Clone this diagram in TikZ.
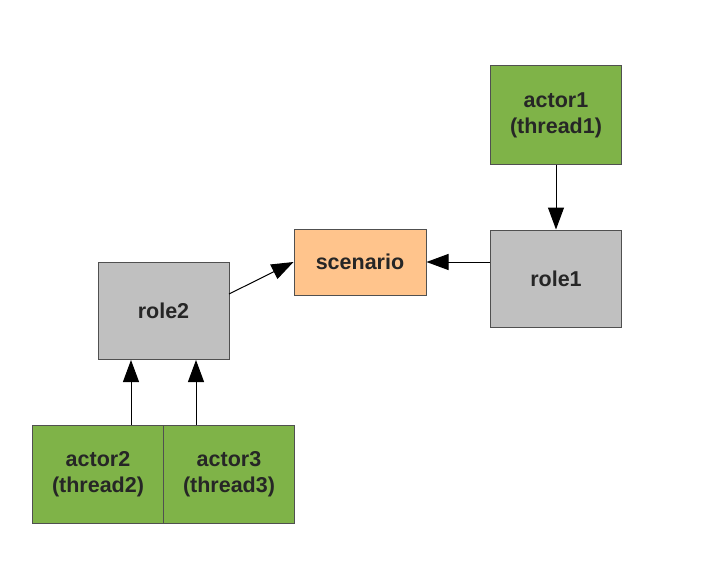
\documentclass[tikz,border=0pt]{standalone}
\usepackage{fontspec}
\setmainfont{Liberation Sans}
\usetikzlibrary{arrows.meta}
\definecolor{actgreen}{RGB}{127,179,72}
\definecolor{rolegray}{RGB}{192,192,192}
\definecolor{scenorange}{RGB}{255,196,140}
\definecolor{edgegray}{RGB}{80,80,80}
\tikzset{
  box/.style={draw=edgegray, line width=1pt, inner sep=0pt, align=center,
    font=\fontsize{21.5}{26}\selectfont\bfseries, text=black!85},
  actorbox/.style={box, fill=actgreen, minimum width=131pt, minimum height=98pt},
  rolebox/.style={box, fill=rolegray, minimum width=131pt, minimum height=97pt},
  scenbox/.style={box, fill=scenorange, minimum width=132pt, minimum height=66pt},
  conn/.style={line width=1pt, -{Triangle[length=22pt,width=16pt]}}
}
\begin{document}
\begin{tikzpicture}[x=1pt,y=-1pt]
\useasboundingbox (0,0) rectangle (728,586);
\node[actorbox] (actor1) at (556,115) {actor1\\(thread1)};
\node[rolebox] (role1) at (556,278.5) {role1};
\node[scenbox] (scenario) at (360,262) {scenario};
\node[rolebox] (role2) at (163.5,311) {role2};
\node[actorbox] (actor2) at (98,474.5) {actor2\\(thread2)};
\node[actorbox] (actor3) at (229,474.5) {actor3\\(thread3)};
\coordinate (r1l) at (490,262);
\coordinate (r2r) at (229,294);
\draw[conn] (actor1.south) -- (role1.north);
\draw[conn] (r1l) -- (scenario.east);
\draw[conn] (r2r) -- (scenario.west);
\draw[conn] (actor2.north -| 131,0) -- (role2.south -| 131,0);
\draw[conn] (actor3.north -| 196,0) -- (role2.south -| 196,0);
\end{tikzpicture}
\end{document}
